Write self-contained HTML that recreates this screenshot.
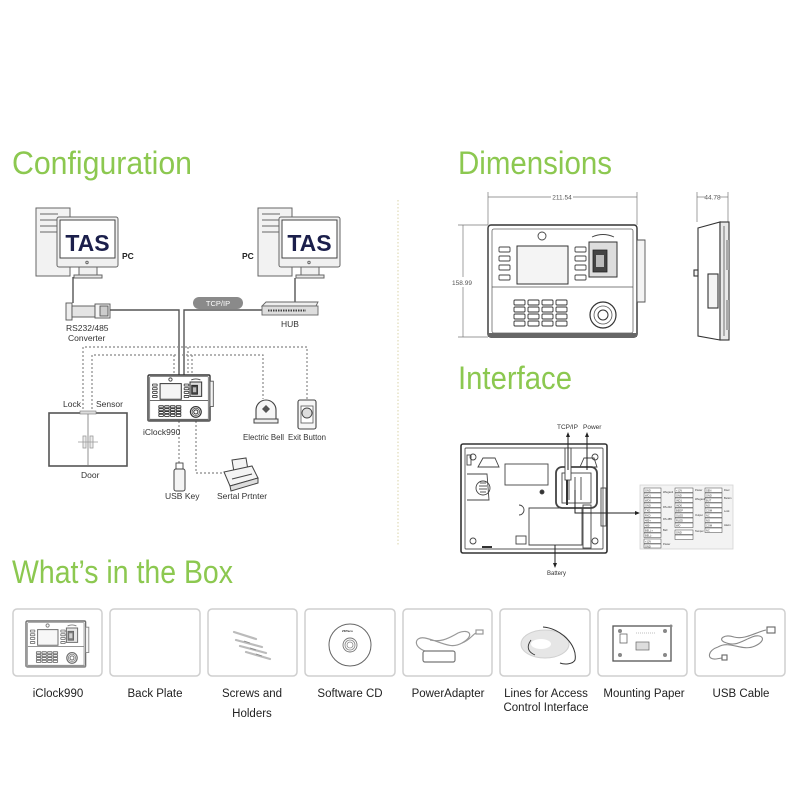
<!DOCTYPE html>
<html><head><meta charset="utf-8">
<style>
html,body{margin:0;padding:0;background:#fff;}
svg{display:block;}
text{font-family:"Liberation Sans",sans-serif;}
</style></head>
<body>
<svg width="800" height="800" viewBox="0 0 800 800" xmlns="http://www.w3.org/2000/svg">
<defs>
<g id="dev">
  <rect x="0" y="0" width="149" height="112" rx="3" fill="#fff" stroke="#333" stroke-width="1.4" vector-effect="non-scaling-stroke"/>
  <rect x="4" y="4" width="141" height="104" rx="2" fill="none" stroke="#666" stroke-width="0.8" vector-effect="non-scaling-stroke"/>
  <line x1="4" y1="62" x2="145" y2="62" stroke="#555" stroke-width="0.8" vector-effect="non-scaling-stroke"/>
  <circle cx="54" cy="11" r="4" fill="none" stroke="#444" stroke-width="0.9" vector-effect="non-scaling-stroke"/>
  <rect x="29" y="21" width="51" height="38" fill="#f4f4f4" stroke="#333" stroke-width="1" vector-effect="non-scaling-stroke"/>
  <g fill="#fff" stroke="#444" stroke-width="0.9">
    <rect x="11" y="22" width="11" height="5" rx="1" vector-effect="non-scaling-stroke"/>
    <rect x="11" y="31" width="11" height="5" rx="1" vector-effect="non-scaling-stroke"/>
    <rect x="11" y="40" width="11" height="5" rx="1" vector-effect="non-scaling-stroke"/>
    <rect x="11" y="50" width="11" height="5" rx="1" vector-effect="non-scaling-stroke"/>
    <rect x="87" y="22" width="11" height="5" rx="1" vector-effect="non-scaling-stroke"/>
    <rect x="87" y="31" width="11" height="5" rx="1" vector-effect="non-scaling-stroke"/>
    <rect x="87" y="40" width="11" height="5" rx="1" vector-effect="non-scaling-stroke"/>
    <rect x="87" y="50" width="11" height="5" rx="1" vector-effect="non-scaling-stroke"/>
  </g>
  <rect x="101" y="17" width="28" height="35" fill="#ddd" stroke="#333" stroke-width="1" vector-effect="non-scaling-stroke"/>
  <rect x="105" y="25" width="14" height="22" fill="#444" stroke="#222" stroke-width="0.8" vector-effect="non-scaling-stroke"/>
  <rect x="108" y="30" width="8" height="12" fill="#bbb"/>
  <path d="M104 12 Q115 7 126 12" fill="none" stroke="#444" stroke-width="0.9" vector-effect="non-scaling-stroke"/>
  <rect x="149" y="15" width="8" height="62" fill="#f4f4f4" stroke="#555" stroke-width="0.9" vector-effect="non-scaling-stroke"/>
  <g fill="#fff" stroke="#333" stroke-width="0.9">
    <rect x="26" y="75" width="11" height="5" rx="1" vector-effect="non-scaling-stroke"/><rect x="40" y="75" width="11" height="5" rx="1" vector-effect="non-scaling-stroke"/><rect x="54" y="75" width="11" height="5" rx="1" vector-effect="non-scaling-stroke"/><rect x="68" y="75" width="11" height="5" rx="1" vector-effect="non-scaling-stroke"/>
    <rect x="26" y="82" width="11" height="5" rx="1" vector-effect="non-scaling-stroke"/><rect x="40" y="82" width="11" height="5" rx="1" vector-effect="non-scaling-stroke"/><rect x="54" y="82" width="11" height="5" rx="1" vector-effect="non-scaling-stroke"/><rect x="68" y="82" width="11" height="5" rx="1" vector-effect="non-scaling-stroke"/>
    <rect x="26" y="89" width="11" height="5" rx="1" vector-effect="non-scaling-stroke"/><rect x="40" y="89" width="11" height="5" rx="1" vector-effect="non-scaling-stroke"/><rect x="54" y="89" width="11" height="5" rx="1" vector-effect="non-scaling-stroke"/><rect x="68" y="89" width="11" height="5" rx="1" vector-effect="non-scaling-stroke"/>
    <rect x="26" y="96" width="11" height="5" rx="1" vector-effect="non-scaling-stroke"/><rect x="40" y="96" width="11" height="5" rx="1" vector-effect="non-scaling-stroke"/><rect x="54" y="96" width="11" height="5" rx="1" vector-effect="non-scaling-stroke"/><rect x="68" y="96" width="11" height="5" rx="1" vector-effect="non-scaling-stroke"/>
  </g>
  <circle cx="115" cy="90" r="13" fill="#fff" stroke="#333" stroke-width="1.2" vector-effect="non-scaling-stroke"/>
  <circle cx="115" cy="90" r="9" fill="none" stroke="#555" stroke-width="0.8" vector-effect="non-scaling-stroke"/>
  <circle cx="115" cy="90" r="5" fill="#fff" stroke="#333" stroke-width="1" vector-effect="non-scaling-stroke"/>
  <rect x="0" y="108" width="149" height="4" fill="#666"/>
</g>
</defs>

<!-- Titles -->
<g fill="#8cc850" font-size="32">
  <text x="12" y="174" textLength="180" lengthAdjust="spacingAndGlyphs">Configuration</text>
  <text x="458" y="174" textLength="154" lengthAdjust="spacingAndGlyphs">Dimensions</text>
  <text x="458" y="389" textLength="114" lengthAdjust="spacingAndGlyphs">Interface</text>
  <text x="12" y="583" textLength="221" lengthAdjust="spacingAndGlyphs">What’s in the Box</text>
</g>

<!-- separator -->
<line x1="398" y1="200" x2="398" y2="545" stroke="#d9d3a8" stroke-width="1" stroke-dasharray="1.5 2"/>

<!-- ============ CONFIGURATION ============ -->
<g stroke="#666" stroke-width="1">
  <rect x="36" y="208" width="34" height="68" fill="#f2f2f2"/>
  <line x1="40" y1="214" x2="58" y2="214"/><line x1="40" y1="220" x2="58" y2="220"/><line x1="40" y1="226" x2="58" y2="226"/><line x1="40" y1="232" x2="58" y2="232"/>
  <rect x="57" y="217" width="61" height="50" rx="2" fill="#f0f0f0"/>
  <rect x="60" y="220" width="55" height="38" fill="#fff" stroke="#444"/>
  <circle cx="87" cy="262.5" r="1.2" fill="none"/>
  <rect x="79" y="267" width="18" height="9" fill="#f0f0f0"/>
  <rect x="74" y="275" width="28" height="3" fill="#e8e8e8"/>
</g>
<text x="87.5" y="251" text-anchor="middle" font-size="23" font-weight="bold" fill="#1b1f4b">TAS</text>
<text x="122" y="259" font-size="8.5" font-weight="bold" fill="#222">PC</text>

<g stroke="#666" stroke-width="1">
  <rect x="258" y="208" width="34" height="68" fill="#f2f2f2"/>
  <line x1="262" y1="214" x2="280" y2="214"/><line x1="262" y1="220" x2="280" y2="220"/><line x1="262" y1="226" x2="280" y2="226"/><line x1="262" y1="232" x2="280" y2="232"/>
  <rect x="279" y="217" width="61" height="50" rx="2" fill="#f0f0f0"/>
  <rect x="282" y="220" width="55" height="38" fill="#fff" stroke="#444"/>
  <circle cx="309" cy="262.5" r="1.2" fill="none"/>
  <rect x="301" y="267" width="18" height="9" fill="#f0f0f0"/>
  <rect x="296" y="275" width="28" height="3" fill="#e8e8e8"/>
</g>
<text x="309.5" y="251" text-anchor="middle" font-size="23" font-weight="bold" fill="#1b1f4b">TAS</text>
<text x="242" y="259" font-size="8.5" font-weight="bold" fill="#222">PC</text>

<g stroke="#555" stroke-width="1.4" fill="none">
  <line x1="73" y1="277" x2="73" y2="303"/>
  <polyline points="110,310 179,310 179,375"/>
  <polyline points="262,310 184,310 184,375"/>
  <line x1="295" y1="278" x2="295" y2="303"/>
</g>

<g stroke="#555" stroke-width="0.9">
  <rect x="66" y="303" width="6" height="17" fill="#eee"/>
  <rect x="72" y="306" width="23" height="11" fill="#e4e4e4"/>
  <rect x="95" y="304" width="15" height="14" fill="#f4f4f4"/>
  <rect x="100" y="306" width="8" height="10" fill="#ccc"/>
</g>
<text x="66" y="331" font-size="8.5" fill="#333">RS232/485</text>
<text x="68" y="341" font-size="8.5" fill="#333">Converter</text>

<rect x="193" y="297" width="50" height="12" rx="6" fill="#8a8a8a"/>
<text x="218" y="306" text-anchor="middle" font-size="7.5" fill="#fff">TCP/IP</text>

<g stroke="#666" stroke-width="0.9">
  <polygon points="266,302 318,302 316,306 262,306" fill="#eee"/>
  <rect x="262" y="306" width="56" height="9" fill="#ddd"/>
  <line x1="268" y1="310.5" x2="306" y2="310.5" stroke="#444" stroke-width="2" stroke-dasharray="1.5 1"/>
</g>
<text x="290" y="327" text-anchor="middle" font-size="8.5" fill="#333">HUB</text>

<g stroke="#888" stroke-width="1.2" stroke-dasharray="2 2" fill="none">
  <polyline points="83,413 83,347 307,347 307,400"/>
  <polyline points="92,413 92,355 263,355 263,399"/>
  <line x1="174" y1="355" x2="174" y2="375"/>
  <line x1="188" y1="347" x2="188" y2="375"/>
  <line x1="192" y1="355" x2="192" y2="375"/>
  <line x1="179" y1="421" x2="179" y2="463"/>
  <polyline points="196,421 196,473 224,473"/>
</g>

<g transform="translate(148,375) scale(0.416,0.41)"><use href="#dev"/></g>
<text x="143" y="435" font-size="8.5" fill="#333">iClock990</text>

<rect x="49" y="413" width="78" height="53" fill="#fff" stroke="#555" stroke-width="1.6"/>
<line x1="88" y1="413" x2="88" y2="466" stroke="#777" stroke-width="0.8"/>
<rect x="80" y="411" width="16" height="3" fill="#ddd" stroke="#777" stroke-width="0.6"/>
<g stroke="#999" stroke-width="0.8" fill="#eee">
  <rect x="83" y="436" width="3" height="12"/><rect x="90" y="436" width="3" height="12"/>
  <line x1="78" y1="442" x2="98" y2="442"/>
</g>
<text x="63" y="407" font-size="8.5" fill="#333">Lock</text>
<text x="96" y="407" font-size="8.5" fill="#333">Sensor</text>
<text x="81" y="478" font-size="8.5" fill="#333">Door</text>

<path d="M256 420 V410 A10 10 0 0 1 276 410 V420 Z" fill="#f6f6f6" stroke="#444" stroke-width="1.1"/>
<rect x="254" y="419" width="24" height="4" fill="#eee" stroke="#444" stroke-width="1"/>
<polygon points="266,405 270,409 266,413 262,409" fill="#555"/>
<text x="243" y="440" font-size="8.5" fill="#333" textLength="41" lengthAdjust="spacingAndGlyphs">Electric Bell</text>

<rect x="298" y="400" width="18" height="29" rx="2" fill="#f6f6f6" stroke="#444" stroke-width="1.1"/>
<rect x="301" y="406" width="12" height="17" fill="#fff" stroke="#555" stroke-width="0.8"/>
<circle cx="307" cy="413" r="5" fill="#ddd" stroke="#444" stroke-width="0.9"/>
<text x="288" y="440" font-size="8.5" fill="#333" textLength="38" lengthAdjust="spacingAndGlyphs">Exit Button</text>

<rect x="176" y="463" width="7" height="6" fill="#fff" stroke="#444" stroke-width="0.9"/>
<rect x="174" y="469" width="11" height="22" rx="2" fill="#f4f4f4" stroke="#444" stroke-width="1"/>
<text x="165" y="499" font-size="8.5" fill="#333">USB Key</text>

<g stroke="#444" stroke-width="1" fill="#f4f4f4">
  <path d="M232 460 L246 458 L248 470 L234 472 Z"/>
  <path d="M224 472 L252 466 L258 478 L230 486 Z"/>
  <path d="M230 486 L258 478 L258 483 L231 491 Z" fill="#ddd"/>
  <line x1="232" y1="479" x2="252" y2="474"/>
</g>
<text x="217" y="499" font-size="8.5" fill="#333">Sertal Prtnter</text>

<!-- ============ DIMENSIONS ============ -->
<g stroke="#777" stroke-width="0.7" fill="none">
  <line x1="488" y1="192" x2="488" y2="225"/>
  <line x1="637" y1="192" x2="637" y2="225"/>
  <line x1="488" y1="197" x2="551" y2="197"/>
  <line x1="573" y1="197" x2="637" y2="197"/>
  <line x1="458" y1="225" x2="488" y2="225"/>
  <line x1="458" y1="337" x2="488" y2="337"/>
  <line x1="463" y1="225" x2="463" y2="277"/>
  <line x1="463" y1="287" x2="463" y2="337"/>
  <line x1="697" y1="192" x2="697" y2="222"/>
  <line x1="728" y1="192" x2="728" y2="222"/>
  <line x1="697" y1="197" x2="705" y2="197"/>
  <line x1="720" y1="197" x2="728" y2="197"/>
</g>
<text x="562" y="199.5" text-anchor="middle" font-size="6.5" fill="#555">211.54</text>
<text x="462" y="285" text-anchor="middle" font-size="6.5" fill="#555">158.99</text>
<text x="712.5" y="199.5" text-anchor="middle" font-size="6.5" fill="#555">44.78</text>

<g transform="translate(488,225)"><use href="#dev"/></g>

<g stroke="#333" stroke-width="1.1" fill="#fff">
  <path d="M698 228 L720 222 L720 340 L698 336 Z"/>
  <rect x="720" y="222" width="9" height="118" fill="#e8e8e8"/>
  <line x1="724" y1="226" x2="724" y2="336" stroke="#555" stroke-width="0.8"/>
  <rect x="708" y="274" width="10" height="34" fill="#f4f4f4"/>
  <rect x="694" y="270" width="4" height="6" fill="#f4f4f4"/>
  <rect x="726" y="240" width="3" height="30" fill="#aaa" stroke="none"/>
  <rect x="726" y="300" width="3" height="30" fill="#aaa" stroke="none"/>
</g>

<!-- ============ INTERFACE ============ -->
<text x="557" y="429" font-size="6.5" fill="#333">TCP/IP</text>
<text x="583" y="429" font-size="6.5" fill="#333">Power</text>
<rect x="461" y="444" width="146" height="109" rx="2" fill="#fff" stroke="#333" stroke-width="1.6"/>
<rect x="465" y="448" width="138" height="101" rx="1" fill="none" stroke="#555" stroke-width="0.9"/>
<g fill="none" stroke="#444" stroke-width="0.9">
  <circle cx="473" cy="457" r="3"/><circle cx="595" cy="457" r="3"/>
  <circle cx="473" cy="541" r="3"/><circle cx="595" cy="541" r="3"/>
  <rect x="505" y="464" width="43" height="21"/>
  <path d="M478 467 L483 458 L495 458 L499 467 Z"/>
  <path d="M580 467 L584 458 L594 458 L597 467 Z"/>
  <path d="M467 474 L487 474 L489 500 L467 500"/>
  <circle cx="483" cy="488" r="7"/>
  <line x1="480" y1="483" x2="486" y2="483"/><line x1="479" y1="486" x2="487" y2="486"/><line x1="479" y1="489" x2="487" y2="489"/><line x1="480" y1="492" x2="486" y2="492"/>
  <circle cx="542" cy="492" r="2" fill="#333"/>
  <rect x="556" y="467" width="41" height="41" rx="6" stroke-width="1.8"/>
  <rect x="562" y="473" width="29" height="30"/>
  <line x1="569" y1="477" x2="569" y2="500"/><line x1="575" y1="477" x2="575" y2="500"/><line x1="581" y1="477" x2="581" y2="500"/>
  <rect x="565" y="448" width="6" height="32" fill="#fff"/>
  <path d="M529 508 L529 545 L582 545 L582 508 Z"/>
  <rect x="583" y="505" width="8" height="43"/>
  <rect x="601" y="488" width="5" height="38"/>
  <path d="M519 505 A5 5 0 0 1 519 515"/>
  <rect x="516" y="536" width="10" height="8"/>
  <rect x="467" y="455" width="4" height="10"/>
</g>
<rect x="482" y="546" width="10" height="2" fill="#333"/>
<rect x="566" y="480" width="2" height="25" fill="#333"/>
<g stroke="#222" stroke-width="1" fill="none">
  <line x1="568" y1="435" x2="568" y2="470"/>
  <line x1="587" y1="435" x2="587" y2="470"/>
  <polyline points="575,490 575,513 636,513"/>
  <line x1="555" y1="545" x2="555" y2="565"/>
</g>
<polygon points="568,432 566,437 570,437" fill="#222"/>
<polygon points="587,432 585,437 589,437" fill="#222"/>
<polygon points="640,513 635,511 635,515" fill="#222"/>
<polygon points="555,568 553,563 557,563" fill="#222"/>
<text x="547" y="575" font-size="6" fill="#333">Battery</text>

<rect x="640" y="485" width="93" height="64" fill="#f3f3f3" stroke="#d4d4d4" stroke-width="0.8"/>
<g fill="#fff" stroke="#444" stroke-width="0.5">
  <rect x="644" y="488" width="17" height="4.5"/><rect x="644" y="493" width="17" height="4.5"/><rect x="644" y="498" width="17" height="4.5"/><rect x="644" y="503" width="17" height="4.5"/><rect x="644" y="508" width="17" height="4.5"/><rect x="644" y="513" width="17" height="4.5"/><rect x="644" y="518" width="17" height="4.5"/><rect x="644" y="523" width="17" height="4.5"/><rect x="644" y="528" width="17" height="4.5"/><rect x="644" y="533" width="17" height="4.5"/><rect x="644" y="539" width="17" height="4.5"/><rect x="644" y="544" width="17" height="4"/>
  <rect x="675" y="488" width="18" height="4.5"/><rect x="675" y="493" width="18" height="4.5"/><rect x="675" y="498" width="18" height="4.5"/><rect x="675" y="503" width="18" height="4.5"/><rect x="675" y="508" width="18" height="4.5"/><rect x="675" y="513" width="18" height="4.5"/><rect x="675" y="518" width="18" height="4.5"/><rect x="675" y="523" width="18" height="4.5"/><rect x="675" y="530" width="18" height="4.5"/><rect x="675" y="535" width="18" height="4.5"/>
  <rect x="705" y="488" width="17" height="4.5"/><rect x="705" y="493" width="17" height="4.5"/><rect x="705" y="498" width="17" height="4.5"/><rect x="705" y="503" width="17" height="4.5"/><rect x="705" y="508" width="17" height="4.5"/><rect x="705" y="513" width="17" height="4.5"/><rect x="705" y="518" width="17" height="4.5"/><rect x="705" y="523" width="17" height="4.5"/><rect x="705" y="528" width="17" height="4.5"/>
</g>
<g font-size="2.6" fill="#333">
  <text x="645" y="491.5">GND</text><text x="645" y="496.5">WD1</text><text x="645" y="501.5">WD0</text><text x="645" y="506.5">GND</text><text x="645" y="511.5">TXD</text><text x="645" y="516.5">RXD</text><text x="645" y="521.5">485+</text><text x="645" y="526.5">485-</text><text x="645" y="531.5">BELL+</text><text x="645" y="536.5">BELL-</text><text x="645" y="542.5">+12V</text><text x="645" y="547.5">GND</text>
  <text x="676" y="491.5">+12V</text><text x="676" y="496.5">GND</text><text x="676" y="501.5">IND1</text><text x="676" y="506.5">IND0</text><text x="676" y="511.5">BEEP</text><text x="676" y="516.5">GLED</text><text x="676" y="521.5">RLED</text><text x="676" y="526.5">WD</text><text x="676" y="533.5">GND</text>
  <text x="706" y="491.5">SEN</text><text x="706" y="496.5">GND</text><text x="706" y="501.5">BUT</text><text x="706" y="506.5">NO</text><text x="706" y="511.5">COM</text><text x="706" y="516.5">NC</text><text x="706" y="521.5">NO</text><text x="706" y="526.5">COM</text><text x="706" y="531.5">NC</text>
  <text x="663" y="493">Wiegand</text><text x="663" y="508">RS-232</text><text x="663" y="520">RS-485</text><text x="663" y="531">Bell</text><text x="663" y="545">Power</text>
  <text x="695" y="491">Power</text><text x="695" y="500">Wiegand</text><text x="695" y="516">Output</text><text x="695" y="532">Tamper</text>
  <text x="724" y="491">Door</text><text x="724" y="499">Button</text><text x="724" y="512">Lock</text><text x="724" y="526">Alarm</text>
</g>

<!-- ============ WHAT'S IN THE BOX ============ -->
<g fill="#fff" stroke="#cfcfcf" stroke-width="1.5">
  <rect x="13" y="609" width="89" height="67" rx="4"/>
  <rect x="110" y="609" width="90" height="67" rx="4"/>
  <rect x="208" y="609" width="89" height="67" rx="4"/>
  <rect x="305" y="609" width="90" height="67" rx="4"/>
  <rect x="403" y="609" width="89" height="67" rx="4"/>
  <rect x="500" y="609" width="90" height="67" rx="4"/>
  <rect x="598" y="609" width="89" height="67" rx="4"/>
  <rect x="695" y="609" width="90" height="67" rx="4"/>
</g>

<g transform="translate(26,621) scale(0.40,0.41)" opacity="0.7"><use href="#dev"/></g>

<g stroke="#bbb" stroke-width="2.2" stroke-linecap="round">
  <line x1="234" y1="632" x2="256" y2="639"/>
  <line x1="236" y1="640" x2="262" y2="647"/>
  <line x1="240" y1="646" x2="266" y2="653"/>
  <line x1="246" y1="652" x2="270" y2="659"/>
</g>
<g stroke="#888" stroke-width="0.8">
  <line x1="244" y1="641" x2="250" y2="643"/><line x1="250" y1="648" x2="256" y2="650"/><line x1="256" y1="654" x2="262" y2="656"/>
</g>

<circle cx="350" cy="645" r="21" fill="#fff" stroke="#666" stroke-width="1"/>
<circle cx="350" cy="645" r="7" fill="none" stroke="#777" stroke-width="0.9"/>
<circle cx="350" cy="645" r="5" fill="none" stroke="#888" stroke-width="0.8"/>
<circle cx="350" cy="645" r="3" fill="none" stroke="#888" stroke-width="0.8"/>
<text x="342" y="632" font-size="3" font-weight="bold" fill="#222">ZKTeco</text>

<g fill="none" stroke="#999" stroke-width="1.2">
  <path d="M428 652 C412 648 414 636 425 638 C440 641 450 650 462 643 C475 636 470 628 458 633 C446 640 440 642 430 640"/>
  <path d="M462 643 C470 640 472 635 476 633"/>
  <rect x="476" y="630" width="7" height="4" fill="#fff"/>
  <rect x="423" y="651" width="32" height="11" rx="2" fill="#fff" stroke="#777"/>
</g>

<ellipse cx="545" cy="644" rx="24" ry="14" fill="#e6e6e6" stroke="#d0d0d0"/>
<ellipse cx="541" cy="644" rx="10" ry="5" fill="#fff"/>
<path d="M543 627 C560 628 578 645 575 660 C573 664 565 665 560 663" fill="none" stroke="#333" stroke-width="1"/>
<path d="M531 640 C526 647 528 652 535 655" fill="none" stroke="#333" stroke-width="0.9"/>

<rect x="613" y="626" width="58" height="35" fill="#fff" stroke="#555" stroke-width="1.3"/>
<g fill="#888"><circle cx="620" cy="631" r="2"/><circle cx="665" cy="631" r="2"/><circle cx="620" cy="655" r="2"/><circle cx="665" cy="655" r="2"/><circle cx="671" cy="626" r="1.5"/></g>
<rect x="620" y="634" width="7" height="9" fill="none" stroke="#666" stroke-width="0.8"/>
<rect x="636" y="642" width="13" height="8" fill="#ddd" stroke="#666" stroke-width="0.7"/>
<line x1="636" y1="633" x2="655" y2="633" stroke="#aaa" stroke-width="0.8" stroke-dasharray="1 1"/>

<g fill="none" stroke="#888" stroke-width="1.1">
  <path d="M718 647 C708 650 706 660 716 659 L722 658"/>
  <path d="M718 647 C730 640 742 652 755 646 C768 640 762 633 752 637 C740 642 735 647 724 642 C718 639 724 634 734 637 C745 640 756 632 766 630"/>
  <rect x="767" y="627" width="8" height="6" fill="#fff" stroke="#666"/>
  <rect x="722" y="655" width="5" height="5" fill="#fff" stroke="#666"/>
</g>

<g font-size="11.5" fill="#222" text-anchor="middle">
  <text x="58" y="697">iClock990</text>
  <text x="155" y="697">Back Plate</text>
  <text x="252" y="697">Screws and</text>
  <text x="252" y="717">Holders</text>
  <text x="350" y="697">Software CD</text>
  <text x="448" y="697">PowerAdapter</text>
  <text x="546" y="697">Lines for Access</text>
  <text x="546" y="711">Control Interface</text>
  <text x="644" y="697">Mounting Paper</text>
  <text x="741" y="697">USB Cable</text>
</g>
</svg>
</body></html>
